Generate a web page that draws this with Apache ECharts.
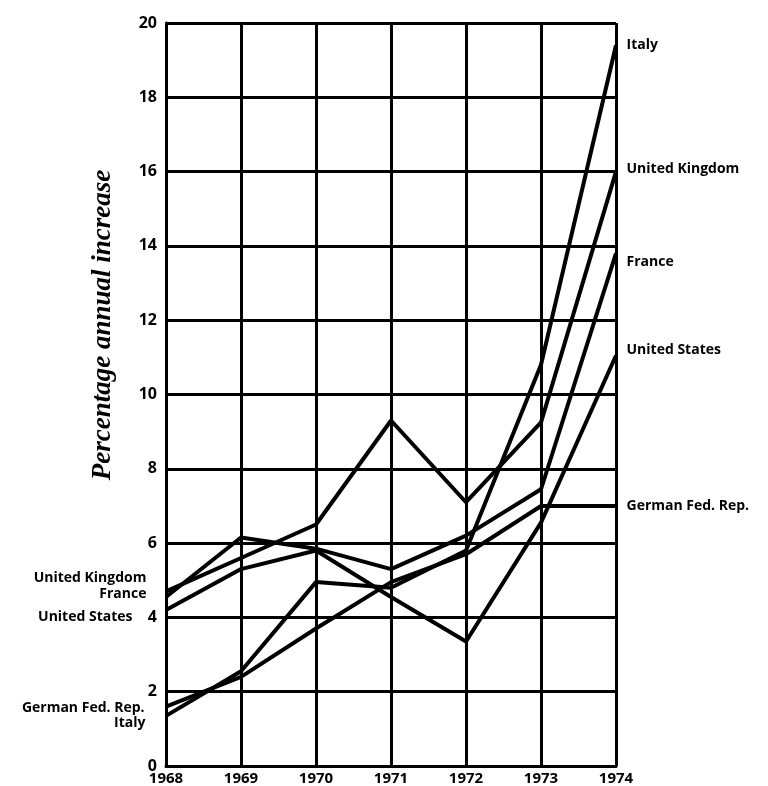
<!DOCTYPE html>
<html>
<head>
<meta charset="utf-8">
<script src="https://cdn.jsdelivr.net/npm/echarts@6/dist/echarts.min.js"></script>
<style>html,body{margin:0;padding:0;background:#fff}#c{width:768px;height:786px}</style>
</head>
<body>
<div id="c"></div>
<script>
const years = ['1968','1969','1970','1971','1972','1973','1974'];
const yTicks = [0,2,4,6,8,10,12,14,16,18,20];
const italy   = [1.35, 2.55, 4.95, 4.8, 5.8, 10.8, 19.4];
const uk      = [4.7, 5.6, 6.5, 9.3, 7.1, 9.25, 16.0];
const france  = [4.55, 6.15, 5.85, 5.3, 6.2, 7.45, 13.8];
const us      = [4.2, 5.3, 5.8, 4.55, 3.35, 6.55, 11.05];
const germany = [1.6, 2.4, 3.7, 4.95, 5.7, 7.0, 7.0];
const yTitle = 'Percentage annual increase';

const labelFont = {fontFamily:'Open Sans', fontWeight:'bold', fontSize:14, color:'#000'};

function mk(name, vals, startName, startOpt, endName, endOpt){
  const data = vals.map(v => ({value: v}));
  data[0].label = Object.assign({show:true, position:'left', formatter:startName, align:'right'}, labelFont, startOpt);
  data[data.length-1].label = Object.assign({show:true, position:'right', formatter:endName}, labelFont, endOpt);
  return {
    name, type:'line', data, symbol:'circle', symbolSize:1, showSymbol:true, showAllSymbol:true,
    label:{show:false},
    lineStyle:{color:'#000', width:4}, itemStyle:{color:'#000'},
    z:5, silent:true, animation:false
  };
}

const chart = echarts.init(document.getElementById('c'), null, {renderer:'canvas'});
chart.setOption({
  animation:false,
  backgroundColor:'#fff',
  grid:{left:166, right:152, top:23, bottom:20, containLabel:false},
  xAxis:{
    type:'category', data:years, boundaryGap:false,
    axisLine:{show:true, lineStyle:{color:'#000', width:3}},
    axisTick:{show:false},
    axisLabel:{margin:5, fontFamily:'Open Sans', fontWeight:'bold', fontSize:15, color:'#000'},
    splitLine:{show:true, lineStyle:{color:'#000', width:3}}
  },
  yAxis:{
    type:'value', min:0, max:20, interval:2,
    axisLine:{show:true, lineStyle:{color:'#000', width:3}},
    axisTick:{show:false},
    axisLabel:{margin:9, fontFamily:'Open Sans', fontWeight:'bold', fontSize:16, color:'#000',
      formatter: v => yTicks.includes(v) ? String(v) : ''},
    splitLine:{show:true, lineStyle:{color:'#000', width:3}}
  },
  graphic:[{
    type:'text', x:103, y:325, rotation:Math.PI/2,
    style:{text:yTitle, font:'italic bold 27px "Liberation Serif"', fill:'#000', align:'center', verticalAlign:'middle'}
  }],
  series:[
    mk('United Kingdom', uk, 'United Kingdom', {distance:19, offset:[0,-13]}, 'United Kingdom', {distance:10, offset:[0,-3]}),
    mk('France', france, 'France', {distance:19, offset:[0,-3]}, 'France', {distance:10, offset:[0,9]}),
    mk('United States', us, 'United States', {distance:33, offset:[0,7]}, 'United States', {distance:10, offset:[0,-5]}),
    mk('German Fed. Rep.', germany, 'German Fed. Rep.', {distance:21, offset:[0,1]}, 'German Fed. Rep.', {distance:10, offset:[0,0]}),
    mk('Italy', italy, 'Italy', {distance:20, offset:[0,7]}, 'Italy', {distance:10, offset:[0,0]})
  ]
});
</script>
</body>
</html>
